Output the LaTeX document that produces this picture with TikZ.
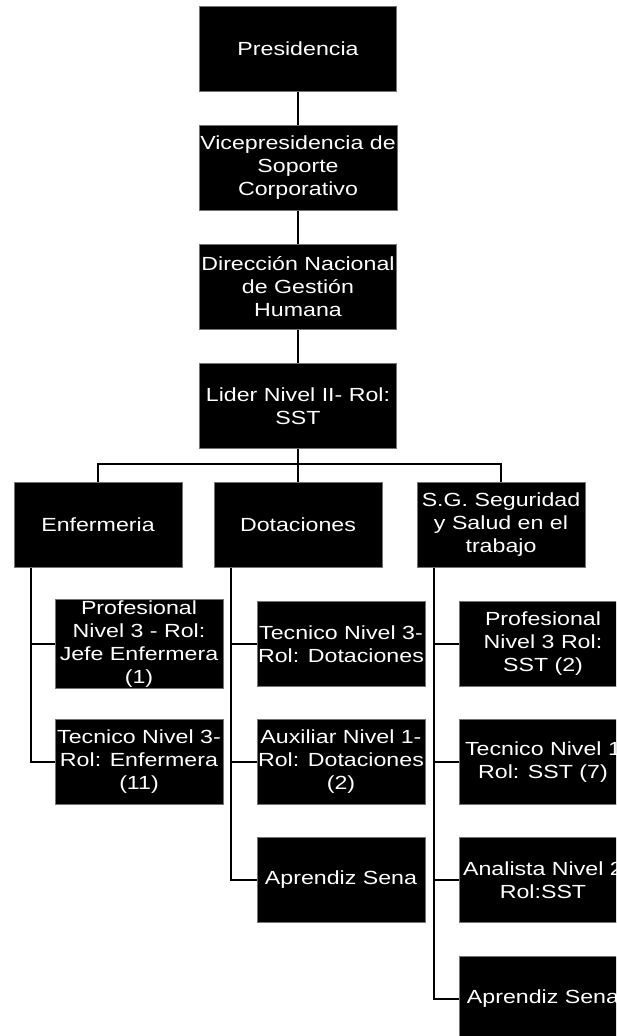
\documentclass[tikz,border=0pt]{standalone}
\usepackage{fontspec}
\setmainfont{Liberation Sans}[FakeStretch=1.22]
\begin{document}
\begin{tikzpicture}[x=1pt, y=-1pt,
  unit/.style={fill=black, draw=black!55, text=white, align=center,
    inner sep=1pt, minimum height=85pt, font=\fontsize{19}{23}\selectfont},
  topunit/.style={unit, minimum width=197pt},
  subunit/.style={unit, minimum width=168pt},
  link/.style={line width=1.6pt}]
\clip (0,0) rectangle (616,1036);

\node[topunit] (pres) at (298,49) {Presidencia};
\node[topunit] (vice) at (298,168) {Vicepresidencia de\\Soporte\\Corporativo};
\node[topunit] (dir) at (298,287) {Dirección Nacional\\de Gestión\\Humana};
\node[topunit] (lider) at (298,406) {Lider Nivel II- Rol:\\SST};

\node[subunit] (enf) at (98,525) {Enfermeria};
\node[subunit] (dot) at (298,525) {Dotaciones};
\node[subunit] (sg) at (501,525) {S.G. Seguridad\\y Salud en el\\trabajo};

\node[subunit] (enfA) at (139,644) {Profesional\\Nivel 3 - Rol:\\Jefe Enfermera\\(1)};
\node[subunit] (enfB) at (139,762) {Tecnico Nivel 3-\\Rol: Enfermera\\(11)};

\node[subunit] (dotA) at (341,644) {Tecnico Nivel 3-\\Rol: Dotaciones};
\node[subunit] (dotB) at (341,762) {Auxiliar Nivel 1-\\Rol: Dotaciones\\(2)};
\node[subunit] (dotC) at (341,880) {Aprendiz Sena};

\node[subunit] (sgA) at (543,644) {Profesional\\Nivel 3 Rol:\\SST (2)};
\node[subunit] (sgB) at (543,762) {Tecnico Nivel 1\\Rol: SST (7)};
\node[subunit] (sgC) at (543,880) {Analista Nivel 2\\Rol:SST};
\node[subunit] (sgD) at (543,999) {Aprendiz Sena};

\coordinate (bus) at (298,464);

\draw[link] (pres) -- (vice);
\draw[link] (vice) -- (dir);
\draw[link] (dir) -- (lider);
\draw[link] (lider) -- (dot);
\draw[link] (enf) |- (bus) -| (sg);

\draw[link] ([xshift=17pt]enf.south west) |- (enfA.west);
\draw[link] ([xshift=17pt]enf.south west) |- (enfB.west);
\draw[link] ([xshift=17pt]dot.south west) |- (dotA.west);
\draw[link] ([xshift=17pt]dot.south west) |- (dotB.west);
\draw[link] ([xshift=17pt]dot.south west) |- (dotC.west);
\draw[link] ([xshift=17pt]sg.south west) |- (sgA.west);
\draw[link] ([xshift=17pt]sg.south west) |- (sgB.west);
\draw[link] ([xshift=17pt]sg.south west) |- (sgC.west);
\draw[link] ([xshift=17pt]sg.south west) |- (sgD.west);
\end{tikzpicture}
\end{document}
